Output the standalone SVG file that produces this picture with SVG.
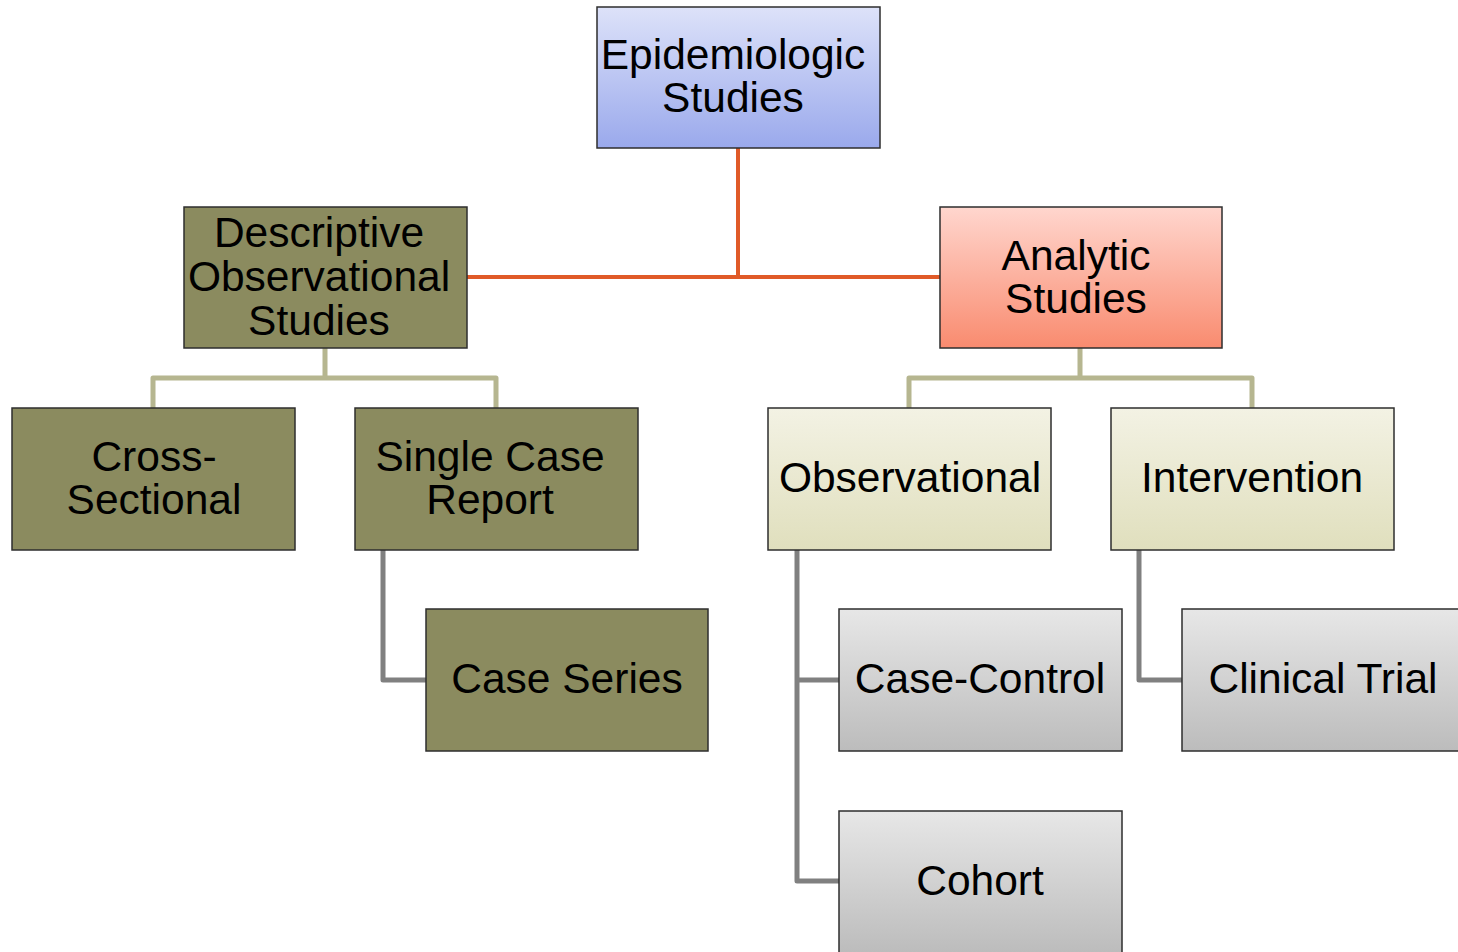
<svg xmlns="http://www.w3.org/2000/svg" width="1458" height="952" viewBox="0 0 1458 952">
  <defs>
    <linearGradient id="gBlue" x1="0" y1="0" x2="0" y2="1">
      <stop offset="0" stop-color="#dde2f9"/>
      <stop offset="1" stop-color="#9aa9ec"/>
    </linearGradient>
    <linearGradient id="gRed" x1="0" y1="0" x2="0" y2="1">
      <stop offset="0" stop-color="#ffd6ce"/>
      <stop offset="1" stop-color="#f98b6f"/>
    </linearGradient>
    <linearGradient id="gCream" x1="0" y1="0" x2="0" y2="1">
      <stop offset="0" stop-color="#f3f2e4"/>
      <stop offset="1" stop-color="#e0dfbd"/>
    </linearGradient>
    <linearGradient id="gGray" x1="0" y1="0" x2="0" y2="1">
      <stop offset="0" stop-color="#e7e7e7"/>
      <stop offset="1" stop-color="#bcbcbc"/>
    </linearGradient>
    <style>
      .box { stroke: #2e2e2e; stroke-width: 1.5; }
      .olive { fill: #8b8b5f; }
      .lbl { font-family: "Liberation Sans", Arial, sans-serif; font-size: 42.5px; fill: #000; text-anchor: middle; }
      .c-main { fill: none; stroke: #e05a28; stroke-width: 4; }
      .c-tan { fill: none; stroke: #b6b690; stroke-width: 5; stroke-linejoin: round; }
      .c-gray { fill: none; stroke: #808080; stroke-width: 5; stroke-linejoin: round; }
    </style>
  </defs>

  <rect width="1458" height="952" fill="#ffffff"/>

  <!-- connectors -->
  <g id="connectors">
    <path class="c-main" d="M738 148 V277 M467 277 H940"/>
    <path class="c-tan" d="M325 348 V378 M153 408 V378 H496 V408"/>
    <path class="c-tan" d="M1080 348 V378 M909 408 V378 H1252 V408"/>
    <path class="c-gray" d="M383 550 V680 H426"/>
    <path class="c-gray" d="M797 550 V881 H839 M797 680 H839"/>
    <path class="c-gray" d="M1139 550 V680 H1182"/>
  </g>

  <g id="epidemiologic">
    <rect class="box" x="597" y="7" width="283" height="141" fill="url(#gBlue)"/>
    <text class="lbl" x="733" y="69">Epidemiologic</text>
    <text class="lbl" x="733" y="112">Studies</text>
  </g>

  <g id="descriptive">
    <rect class="box olive" x="184" y="207" width="283" height="141"/>
    <text class="lbl" x="319" y="247">Descriptive</text>
    <text class="lbl" x="319" y="291">Observational</text>
    <text class="lbl" x="319" y="335">Studies</text>
  </g>

  <g id="analytic">
    <rect class="box" x="940" y="207" width="282" height="141" fill="url(#gRed)"/>
    <text class="lbl" x="1076" y="270">Analytic</text>
    <text class="lbl" x="1076" y="313">Studies</text>
  </g>

  <g id="cross-sectional">
    <rect class="box olive" x="12" y="408" width="283" height="142"/>
    <text class="lbl" x="154" y="471">Cross-</text>
    <text class="lbl" x="154" y="514">Sectional</text>
  </g>

  <g id="single-case-report">
    <rect class="box olive" x="355" y="408" width="283" height="142"/>
    <text class="lbl" x="490" y="471">Single Case</text>
    <text class="lbl" x="490" y="514">Report</text>
  </g>

  <g id="observational">
    <rect class="box" x="768" y="408" width="283" height="142" fill="url(#gCream)"/>
    <text class="lbl" x="910" y="492">Observational</text>
  </g>

  <g id="intervention">
    <rect class="box" x="1111" y="408" width="283" height="142" fill="url(#gCream)"/>
    <text class="lbl" x="1252" y="492">Intervention</text>
  </g>

  <g id="case-series">
    <rect class="box olive" x="426" y="609" width="282" height="142"/>
    <text class="lbl" x="567" y="693">Case Series</text>
  </g>

  <g id="case-control">
    <rect class="box" x="839" y="609" width="283" height="142" fill="url(#gGray)"/>
    <text class="lbl" x="980" y="693">Case-Control</text>
  </g>

  <g id="clinical-trial">
    <rect class="box" x="1182" y="609" width="283" height="142" fill="url(#gGray)"/>
    <text class="lbl" x="1323" y="693">Clinical Trial</text>
  </g>

  <g id="cohort">
    <rect class="box" x="839" y="811" width="283" height="142" fill="url(#gGray)"/>
    <text class="lbl" x="980" y="895">Cohort</text>
  </g>
</svg>
